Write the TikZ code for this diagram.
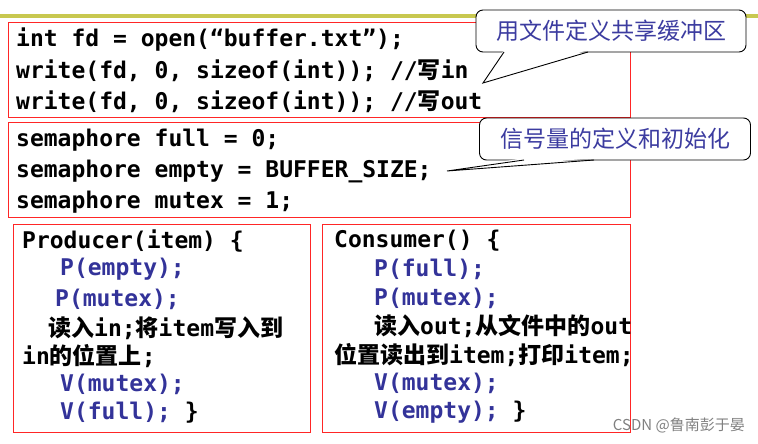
\documentclass[tikz,border=0pt]{standalone}
\usepackage{fontspec}
\setmonofont{DejaVu Sans Mono}
\newfontfamily\cjk{Noto Sans CJK SC}
\usetikzlibrary{positioning}
\definecolor{codeblue}{HTML}{333399}
\definecolor{noteblue}{HTML}{3C3CA0}
\definecolor{olivebar}{HTML}{C8C850}
\newcommand{\zh}[1]{{\cjk #1}}

\begin{document}
\begin{tikzpicture}[x=1pt,y=-1pt,
	code/.style={anchor=west,inner sep=0pt,font=\ttfamily\bfseries\fontsize{23}{26}\selectfont},
	blue code/.style={code,text=codeblue},
	frame/.style={draw=red!85,line width=0.8pt},
	callout/.style={draw=black,line width=0.9pt,rounded corners=7pt,fill=white,
		text=noteblue,font=\cjk\fontsize{23}{26}\selectfont,minimum height=42pt,inner xsep=10pt}]

	\useasboundingbox (0,0) rectangle (758,444);
	\fill[olivebar] (0,14) rectangle (758,18);

	% frames
	\draw[frame] (8,22) rectangle (630,117);
	\draw[frame] (8,122) rectangle (630,217);
	\draw[frame] (13,224) rectangle (310,432);
	\draw[frame] (322,224) rectangle (630,432);

	% file
	\node[code] (open) at (16,40) {int fd = open(“buffer.txt”);};
	\node[code] (win) at (16,71) {write(fd, 0, sizeof(int)); //\zh{写}in};
	\node[code] (wout) at (16,102) {write(fd, 0, sizeof(int)); //\zh{写}out};

	% semaphores
	\node[code] (full) at (16,140) {semaphore full = 0;};
	\node[code] (empty) at (16,171) {semaphore empty = BUFFER\_SIZE;};
	\node[code] (mutex) at (16,202) {semaphore mutex = 1;};

	% producer
	\node[code] (prod) at (22,241) {Producer(item) \{};
	\node[blue code] (pe) at (60,269) {P(empty);};
	\node[blue code] (pm) at (55,299) {P(mutex);};
	\node[code] (pr1) at (48,328) {\zh{读入}in;\zh{将}item\zh{写入到}};
	\node[code] (pr2) at (22,356) {in\zh{的位置上};};
	\node[blue code] (vm) at (60,384) {V(mutex);};
	\node[blue code] (vf) at (60,413) {V(full);\textcolor{black}{\ \}}};

	% consumer
	\node[code] (cons) at (334,241) {Consumer() \{};
	\node[blue code] (cf) at (374,269) {P(full);};
	\node[blue code] (cm) at (374,298) {P(mutex);};
	\node[code] (cr1) at (374,326) {\zh{读入}out;\zh{从文件中的}out};
	\node[code] (cr2) at (334,355) {\zh{位置读出到}item;\zh{打印}item;};
	\node[blue code] (cvm) at (374,383) {V(mutex);};
	\node[blue code] (cve) at (374,412) {V(empty);\textcolor{black}{\ \}}};

	% callouts
	\node[callout,minimum width=270pt] (note1) at (611,31) {用文件定义共享缓冲区};
	\coordinate (tip1) at (483,83);
	\fill[white] (504,50) -- (tip1) -- (588,50) -- cycle;
	\draw[line width=0.9pt] (504,52) -- (tip1) -- (588,52);

	\node[callout,minimum width=271pt] (note2) at (615,139) {信号量的定义和初始化};
	\coordinate (tip2) at (447,171);
	\fill[white] (524,158) -- (tip2) -- (594,158) -- cycle;
	\draw[line width=0.9pt] (524,160) -- (tip2) -- (594,160);

	\node[anchor=east,text=gray,inner sep=0pt,font=\cjk\fontsize{15}{17}\selectfont] (mark) at (745,425) {CSDN @鲁南彭于晏};
\end{tikzpicture}
\end{document}
